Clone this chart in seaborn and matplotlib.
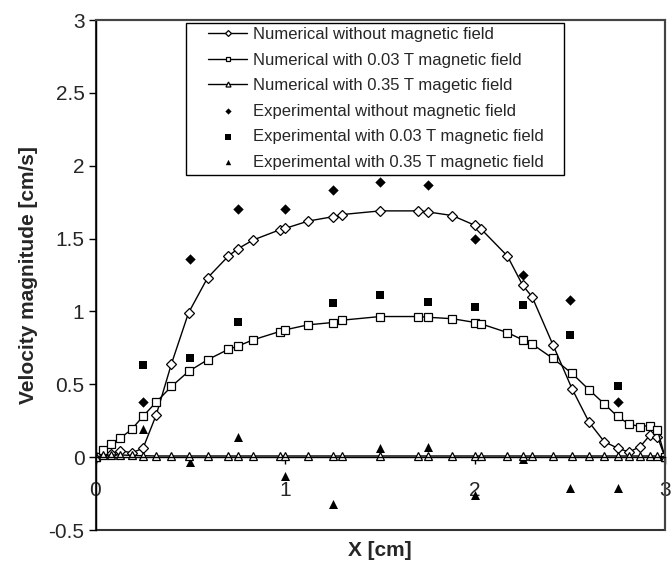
import numpy as np
import pandas as pd
import matplotlib
matplotlib.use("Agg")
import matplotlib.pyplot as plt
from matplotlib.patches import Rectangle
from matplotlib.transforms import IdentityTransform
import seaborn as sns

# ---- data ----
x_num = [0, 0.04, 0.08, 0.13, 0.19, 0.25, 0.32, 0.40, 0.49, 0.59, 0.70, 0.75, 0.83,
         0.97, 1.0, 1.12, 1.25, 1.30, 1.50, 1.70, 1.75, 1.88, 2.0, 2.03, 2.17, 2.25,
         2.30, 2.41, 2.51, 2.60, 2.68, 2.75, 2.81, 2.87, 2.92, 2.96, 3.0]
num_none = [0, 0.02, 0.025, 0.045, 0.03, 0.06, 0.29, 0.64, 0.99, 1.23, 1.38, 1.43, 1.49,
            1.56, 1.57, 1.62, 1.65, 1.665, 1.69, 1.69, 1.683, 1.658, 1.59, 1.567, 1.38, 1.18,
            1.10, 0.77, 0.47, 0.24, 0.106, 0.062, 0.035, 0.073, 0.15, 0.14, 0]
num_003 = [0, 0.05, 0.09, 0.13, 0.19, 0.28, 0.378, 0.485, 0.588, 0.668, 0.74, 0.762, 0.805,
           0.862, 0.874, 0.908, 0.924, 0.94, 0.965, 0.965, 0.96, 0.95, 0.924, 0.915, 0.855, 0.805,
           0.776, 0.677, 0.575, 0.462, 0.366, 0.279, 0.227, 0.21, 0.217, 0.188, 0]
num_035 = [0, 0.012, 0.015, 0.015, 0.012, 0.01, 0.008, 0.008, 0.008, 0.008, 0.008, 0.008, 0.008,
           0.008, 0.008, 0.008, 0.008, 0.008, 0.008, 0.008, 0.008, 0.008, 0.008, 0.008, 0.008, 0.008,
           0.008, 0.008, 0.008, 0.008, 0.008, 0.008, 0.008, 0.008, 0.008, 0.008, 0]

x_exp = [0.25, 0.5, 0.75, 1.0, 1.25, 1.5, 1.75, 2.0, 2.25, 2.5, 2.75]
exp_none = [0.38, 1.36, 1.70, 1.70, 1.83, 1.89, 1.865, 1.50, 1.25, 1.08, 0.38]
exp_003 = [0.63, 0.68, 0.93, 0.87, 1.055, 1.11, 1.065, 1.03, 1.045, 0.84, 0.485]
exp_035 = [0.19, -0.035, 0.14, -0.13, -0.32, 0.06, 0.07, -0.26, -0.015, -0.21, -0.21]

labels = ["Numerical without magnetic field",
          "Numerical with 0.03 T magnetic field",
          "Numerical with 0.35 T magetic field",
          "Experimental without magnetic field",
          "Experimental with 0.03 T magnetic field",
          "Experimental with 0.35 T magnetic field"]

xticks = [0, 1, 2, 3]
yticks = [-0.5, 0, 0.5, 1, 1.5, 2, 2.5, 3]
ytick_labels = ["-0.5", "0", "0.5", "1", "1.5", "2", "2.5", "3"]

# ---- style ----
sns.set_theme(style="white")
plt.rcParams["font.family"] = ["Liberation Sans", "DejaVu Sans"]

fig = plt.figure(figsize=(6.72, 5.65), dpi=100)
ax = fig.add_axes([95.5 / 672, 1 - 530 / 565, (665 - 95.5) / 672, 510 / 565])

line_kw = dict(color="black", linewidth=1.0, markerfacecolor="white",
               markeredgecolor="black", markeredgewidth=0.9, sort=False, estimator=None)
sns.lineplot(x=x_num, y=num_none, marker="D", markersize=5, label=labels[0], ax=ax, **line_kw)
sns.lineplot(x=x_num, y=num_003, marker="s", markersize=6, label=labels[1], ax=ax, **line_kw)
sns.lineplot(x=x_num, y=num_035, marker="^", markersize=6, label=labels[2], ax=ax, **line_kw)

sns.scatterplot(x=x_exp, y=exp_none, marker="D", s=28, color="black", edgecolor="black",
                linewidth=0, label=labels[3], ax=ax)
sns.scatterplot(x=x_exp, y=exp_003, marker="s", s=40, color="black", edgecolor="black",
                linewidth=0, label=labels[4], ax=ax)
sns.scatterplot(x=x_exp, y=exp_035, marker="^", s=42, color="black", edgecolor="black",
                linewidth=0, label=labels[5], ax=ax)

ax.set_xlim(0, 3)
ax.set_ylim(-0.5, 3)
ax.set_xticks(xticks)
ax.set_xticklabels([str(t) for t in xticks])
ax.set_yticks(yticks)
ax.set_yticklabels(ytick_labels)

# x axis crosses at y = 0
ax.spines["bottom"].set_position(("data", 0))
for s in ["left", "top", "right", "bottom"]:
    ax.spines[s].set_visible(True)
    ax.spines[s].set_color("black")
    ax.spines[s].set_linewidth(1.0)
ax.spines["top"].set_color("#444444")
ax.spines["right"].set_color("#444444")
ax.spines["top"].set_linewidth(1.5)
ax.spines["right"].set_linewidth(1.5)
ax.patch.set_edgecolor("#333333")
ax.patch.set_linewidth(1.5)

ax.tick_params(axis="x", direction="out", length=5, width=1, pad=12, labelsize=15,
               color="black", bottom=True)
ax.tick_params(axis="y", direction="out", length=5, width=1, pad=3, labelsize=15,
               color="black", left=True)

ax.set_xlabel("X [cm]", fontsize=15, fontweight="bold")
ax.set_ylabel("Velocity magnitude [cm/s]", fontsize=15, fontweight="bold")
ax.xaxis.set_label_coords(0.5, -0.022)
ax.yaxis.set_label_coords(-0.101, 0.5)

leg = ax.legend(loc="upper left", bbox_to_anchor=(0.1975, 0.986), borderaxespad=0,
                fontsize=12, frameon=False, handlelength=2.35, handletextpad=0.36,
                labelspacing=0.63, markerscale=0.6, borderpad=0)

# legend frame with wider horizontal padding than vertical
fig.canvas.draw()
bb = leg.get_window_extent()
frame = Rectangle((bb.x0 - 22, bb.y0 - 5), bb.width + 42, bb.height + 9,
                  transform=IdentityTransform(), fill=False, edgecolor="black",
                  linewidth=1.0, zorder=10)
fig.add_artist(frame)

fig.savefig("out.png", dpi=100)
